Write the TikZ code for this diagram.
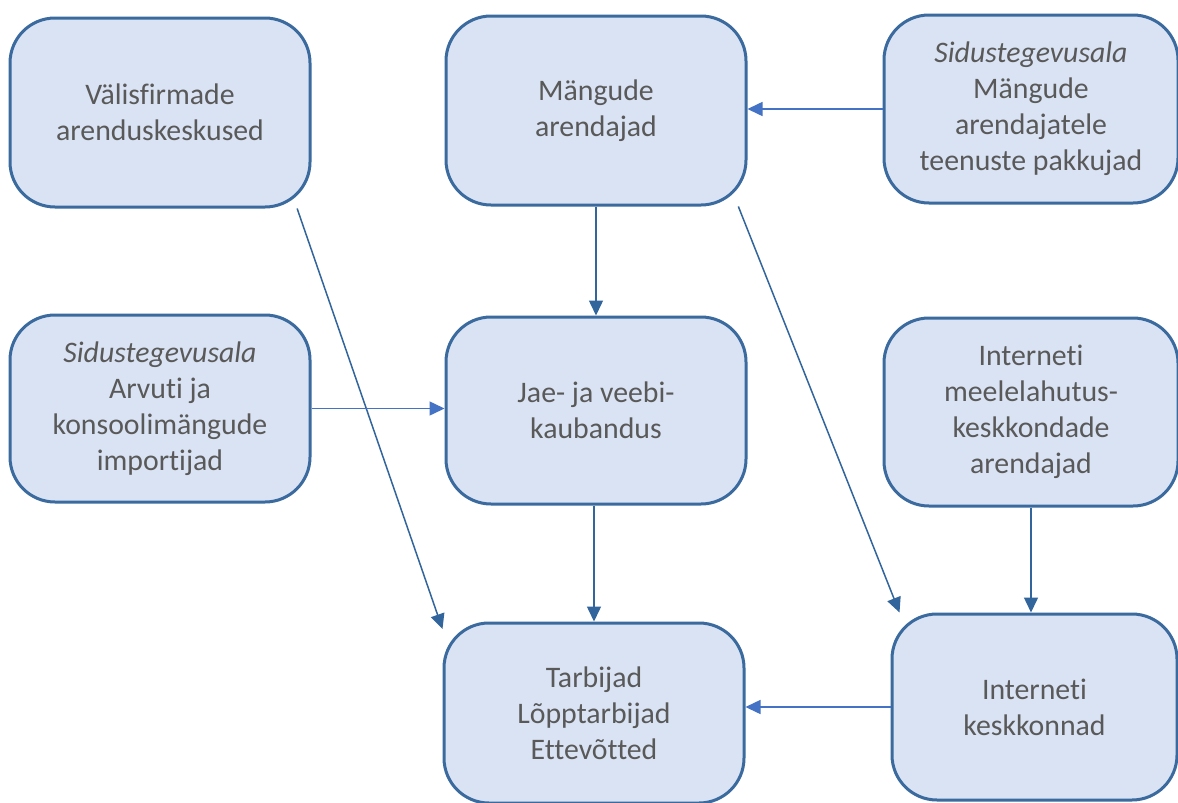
\documentclass[tikz,border=0pt]{standalone}
\usepackage{fontspec}
\setmainfont[Ligatures=NoCommon]{Carlito}
\usetikzlibrary{arrows.meta}

\definecolor{boxfill}{HTML}{DAE3F3}
\definecolor{boxline}{HTML}{3A6A9E}
\definecolor{textgray}{HTML}{595959}
\definecolor{arrdark}{HTML}{32659C}
\definecolor{arrlite}{HTML}{4472C4}

\begin{document}
\begin{tikzpicture}[x=1pt, y=-1pt,
    box/.style={rectangle, rounded corners=45pt, draw=boxline, line width=3pt,
        fill=boxfill, text=textgray, align=center,
        font=\fontsize{29.8}{36}\selectfont, inner sep=0pt},
    darkarr/.style={draw=arrdark, line width=1.5pt, -{Triangle[length=15pt,width=14pt]}},
    litearr/.style={draw=arrlite, line width=1.5pt, -{Triangle[length=15pt,width=14pt]}}]
    \useasboundingbox (0,0) rectangle (1178,803);
    \fill[white] (0,0) rectangle (1178,803);

    % top row
    \node[box, minimum width=300pt, minimum height=189pt] (valis) at (160,112.5)
        {Välisfirmade\\arenduskeskused};
    \node[box, minimum width=300pt, minimum height=189pt] (arendajad) at (596,110.5)
        {Mängude\\arendajad};
    \node[box, minimum width=294pt, minimum height=188pt] (teenused) at (1031,109)
        {\textit{Sidustegevusala}\\Mängude\\arendajatele\\teenuste pakkujad};

    % middle row
    \node[box, minimum width=300pt, minimum height=187pt] (importijad) at (160,408.5)
        {\textit{Sidustegevusala}\\Arvuti ja\\konsoolimängude\\importijad};
    \node[box, minimum width=300pt, minimum height=187pt] (kaubandus) at (596,410.5)
        {Jae- ja veebi-\\kaubandus};
    \node[box, minimum width=294pt, minimum height=188pt] (meelelahutus) at (1031,412)
        {Internet\kern0pt i\\meelelahutus-\\keskkondade\\arendajad};

    % bottom row
    \node[box, minimum width=300pt, minimum height=180pt] (tarbijad) at (594,713)
        {Tarbijad\\Lõpptarbijad\\Ettevõtted};
    \node[box, minimum width=285pt, minimum height=186pt] (keskkonnad) at (1034.5,707)
        {Internet\kern0pt i\\keskkonnad};

    % connectors
    \draw[litearr] (teenused.west) -- (arendajad.east |- teenused.west);
    \draw[darkarr] (arendajad.south) -- (kaubandus.north);
    \draw[darkarr] (valis.-35) -- (tarbijad.151);
    \draw[litearr] (importijad.east) -- (kaubandus.west |- importijad.east);
    \draw[darkarr] (kaubandus.south -| tarbijad.north) -- (tarbijad.north);
    \draw[darkarr] (arendajad.-34) -- (keskkonnad.145);
    \draw[darkarr] (meelelahutus.south) -- (meelelahutus.south |- keskkonnad.north);
    \draw[litearr] (keskkonnad.west) -- (tarbijad.east |- keskkonnad.west);
\end{tikzpicture}
\end{document}
